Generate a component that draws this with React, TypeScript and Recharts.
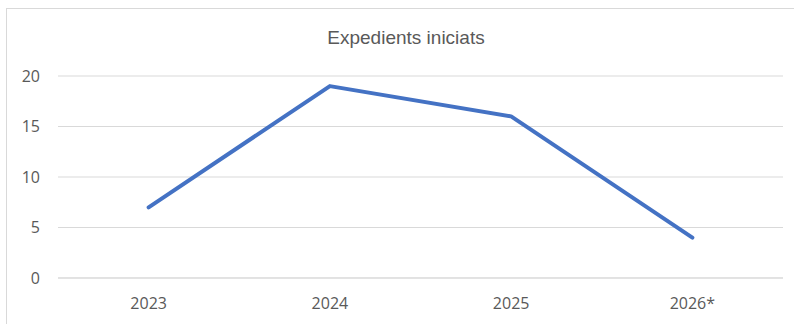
import { CartesianGrid, Line, LineChart, XAxis, YAxis } from 'recharts';

const YEARS = ['2023', '2024', '2025', '2026*'];
const EXPEDIENTS = [7, 19, 16, 4];
const Y_TICKS = [0, 5, 10, 15, 20];

const data = YEARS.map((year, i) => ({ year, value: EXPEDIENTS[i] }));

export default function App() {
  return (
    <div
      style={{
        position: 'absolute',
        left: 0,
        top: 0,
        width: 794,
        height: 324,
        overflow: 'hidden',
        background: '#fff',
        fontFamily: '"Liberation Sans", Arial, sans-serif',
      }}
    >
      <div
        style={{
          position: 'absolute',
          left: 6,
          top: 8,
          width: 800,
          height: 340,
          border: '1px solid #d9d9d9',
          boxSizing: 'border-box',
        }}
      />
      <div
        style={{
          position: 'absolute',
          left: 0,
          width: 812,
          top: 27,
          textAlign: 'center',
          fontSize: 19,
          color: '#595959',
        }}
      >
        Expedients iniciats
      </div>
      <div style={{ position: 'absolute', left: 0, top: 0 }}>
        <LineChart width={794} height={324} data={data} margin={{ top: 76, right: 11, left: 0, bottom: 0 }}>
          <CartesianGrid vertical={false} stroke="#d9d9d9" />
          <XAxis
            dataKey="year"
            scale="band"
            height={46}
            tickLine={false}
            tickSize={0}
            tickMargin={20}
            axisLine={{ stroke: '#d9d9d9' }}
            tick={{ fill: '#595959', fontSize: 16, fontFamily: '"Open Sans", sans-serif' }}
          />
          <YAxis
            width={58}
            domain={[0, 20]}
            ticks={Y_TICKS}
            axisLine={false}
            tickLine={false}
            tickSize={0}
            tickMargin={18}
            tick={{ fill: '#595959', fontSize: 16, fontFamily: '"Open Sans", sans-serif' }}
          />
          <Line
            dataKey="value"
            stroke="#4472c4"
            strokeWidth={4}
            strokeLinecap="round"
            strokeLinejoin="round"
            dot={false}
            activeDot={false}
            isAnimationActive={false}
          />
        </LineChart>
      </div>
    </div>
  );
}
